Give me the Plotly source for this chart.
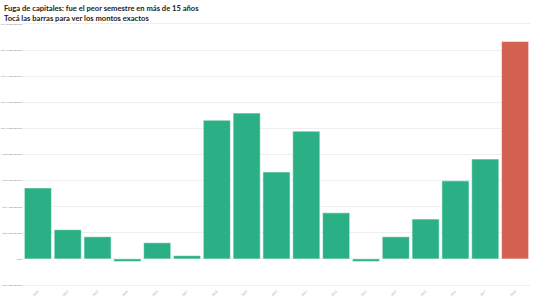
import plotly.graph_objects as go

years = [str(y) for y in range(2002, 2019)]
values_bn = [5.44, 2.24, 1.7, -0.2, 1.24, 0.25, 10.63, 11.17, 6.66, 9.79, 3.53, -0.2, 1.7, 3.05, 5.98, 7.65, 16.66]
bar_colors = ["#2bb086"] * 16 + ["#d46252"]

tick_vals = [-2, 0, 2, 4, 6, 8, 10, 12, 14, 16, 18]
tick_text = ["-US$ 2.000.000.000", "US$0"] + [
    "US$ {:,}".format(v * 1000000000).replace(",", ".") for v in tick_vals[2:]
]

title_lines = [
    "Fuga de capitales: fue el peor semestre en más de 15 años",
    "Tocá las barras para ver los montos exactos",
]

fig = go.Figure(
    go.Bar(
        x=years,
        y=values_bn,
        marker=dict(color=bar_colors, line=dict(color="rgba(255,255,255,0.55)", width=1)),
        hoverinfo="x+y",
    )
)

fig.update_layout(
    width=533,
    height=300,
    margin=dict(l=23, r=3, t=22, b=13),
    paper_bgcolor="white",
    plot_bgcolor="white",
    bargap=0.09,
    showlegend=False,
    font=dict(family="Lato", color="#333333"),
    annotations=[
        dict(
            text="<b>" + "<br>".join(title_lines) + "</b>",
            x=0, y=1, xref="paper", yref="paper",
            xanchor="left", yanchor="top",
            xshift=-21, yshift=21,
            align="left", showarrow=False,
            font=dict(size=7.6, color="#222222", family="Lato"),
        )
    ],
)

fig.update_yaxes(
    range=[-2.15, 18.15],
    tickvals=tick_vals,
    ticktext=tick_text,
    tickfont=dict(size=2.3, color="#888888"),
    showgrid=True,
    gridcolor="#eeeeee",
    gridwidth=1,
    zeroline=False,
    ticklabelstandoff=0,
    ticks="",
    automargin=False,
)
fig.update_xaxes(
    tickangle=-45,
    tickfont=dict(size=3, color="#aaaaaa"),
    showgrid=False,
    ticks="",
    automargin=False,
    ticklabelstandoff=1,
)

fig.write_html("out.html")
